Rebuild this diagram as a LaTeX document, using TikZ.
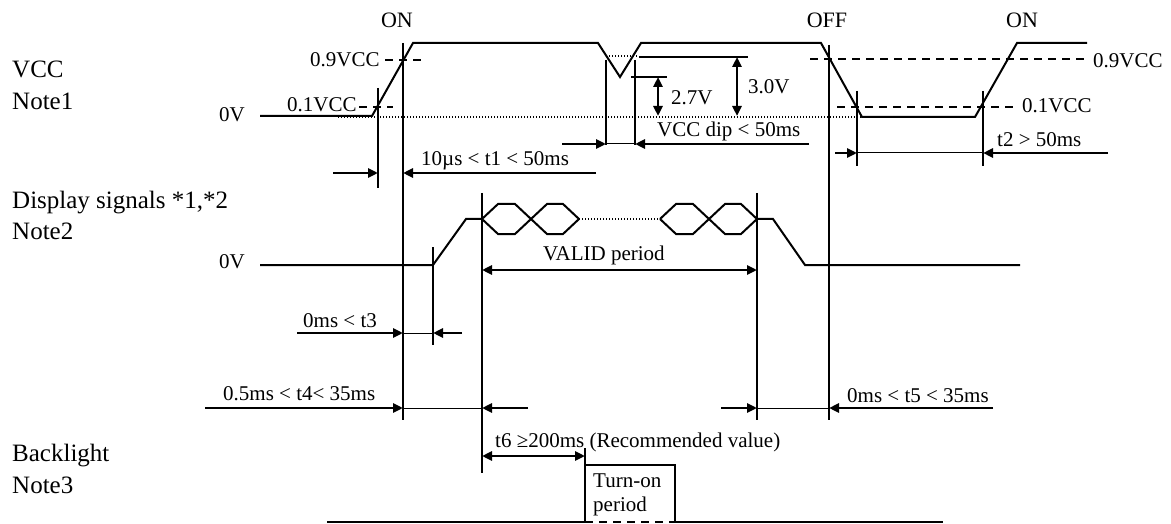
\documentclass[tikz,border=0pt]{standalone}
\usepackage{fontspec}
\setmainfont{Liberation Serif}
\usetikzlibrary{arrows.meta}
\begin{document}
\begin{tikzpicture}[x=1pt,y=-1pt,
  wave/.style={line width=2pt, line join=miter},
  vline/.style={line width=1.8pt},
  thin/.style={line width=1pt},
  dimarrow/.style={line width=2.5pt, -{Triangle[length=10pt,width=9pt]}},
  dblarrow/.style={line width=2.5pt, {Triangle[length=10pt,width=9pt]}-{Triangle[length=10pt,width=9pt]}},
  dotline/.style={line width=1.2pt, dash pattern=on 1.2pt off 1.8pt},
  dashline/.style={line width=1.6pt, dash pattern=on 8pt off 6pt},
  lab/.style={anchor=base west, inner sep=0pt, font=\fontsize{21}{24}\selectfont},
  clab/.style={anchor=base, inner sep=0pt, font=\fontsize{22}{24}\selectfont},
  big/.style={anchor=base west, inner sep=0pt, font=\fontsize{25}{28}\selectfont}]
\useasboundingbox (0,0) rectangle (1171,524);

% ---------- left labels ----------
\node[big] (vcc) at (12,78) {VCC};
\node[big] (n1) at (12,110) {Note1};
\node[big] (ds) at (12,208) {Display signals *1,*2};
\node[big] (n2) at (12,240) {Note2};
\node[big] (bl) at (12,461) {Backlight};
\node[big] (n3) at (12,493) {Note3};
\node[lab] (zv1) at (219,122) {0V};
\node[lab] (zv2) at (219,268) {0V};

% ---------- top labels ----------
\node[clab] (on1) at (397,28) {ON};
\node[clab] (off) at (827,28) {OFF};
\node[clab] (on2) at (1022,28) {ON};

% ---------- VCC waveform ----------
\draw[dotline] (338,117) -- (862,117);
\draw[dotline] (606,56) -- (637,56);
\draw[wave] (260,116) -- (372,116) -- (413,43) -- (598,43) -- (620,77) -- (641,43)
  -- (821,43) -- (862,117) -- (975,117) -- (1017,43) -- (1087,43);

% level markers
\node[lab] (l09) at (310,67) {0.9VCC};
\node[lab] (l01) at (287,112) {0.1VCC};
\draw[dashline] (385,60) -- (421,60);
\draw[dashline] (359,107) -- (393,107);
\draw[dashline] (810,59) -- (1084,59);
\draw[dashline] (837,107) -- (1018,107);
\node[lab] (r09) at (1093,68) {0.9VCC};
\node[lab] (r01) at (1022,113) {0.1VCC};

% vertical markers
\draw[vline] (378,88) -- (378,188);
\draw[vline] (403,43) -- (403,420);
\draw[vline] (606,60) -- (606,145);
\draw[vline] (635,60) -- (635,145);
\draw[vline] (829,45) -- (829,420);
\draw[vline] (857,91) -- (857,166);
\draw[vline] (983,91) -- (983,166);

% t1
\draw[dimarrow] (333,173) -- (378,173);
\draw[dimarrow] (596,173) -- (403,173);
\node[lab] (t1) at (421,166) {10µs < t1 < 50ms};

% dip
\draw[wave] (639,57) -- (748,57);
\draw[wave] (631,77) -- (667,77);
\draw[dblarrow] (658,77) -- (658,116);
\draw[dblarrow] (737,57) -- (737,116);
\node[lab] (v27) at (671,105) {2.7V};
\node[lab] (v30) at (748,94) {3.0V};
\draw[thin] (606,144) -- (635,144);
\draw[dimarrow] (562,144) -- (606,144);
\draw[dimarrow] (809,144) -- (635,144);
\node[lab] (dip) at (657,137) {VCC dip < 50ms};

% t2
\draw[thin] (857,153) -- (983,153);
\draw[dimarrow] (835,153) -- (857,153);
\draw[dimarrow] (1108,153) -- (983,153);
\node[lab] (t2) at (997,147) {t2 > 50ms};

% ---------- Display signals ----------
\draw[wave] (260,265) -- (433,265) -- (466,219) -- (482,219);
\draw[wave] (482,219) -- (498,204) -- (515,204) -- (547,234) -- (563,234) -- (579,219);
\draw[wave] (482,219) -- (498,234) -- (515,234) -- (547,204) -- (563,204) -- (579,219);
\draw[dotline] (579,219) -- (660,219);
\draw[wave] (660,219) -- (676,204) -- (693,204) -- (725,234) -- (741,234) -- (757,219);
\draw[wave] (660,219) -- (676,234) -- (693,234) -- (725,204) -- (741,204) -- (757,219);
\draw[wave] (757,219) -- (773,219) -- (805,265) -- (1020,265);

\draw[vline] (433,247) -- (433,345);
\draw[vline] (482,193) -- (482,473);
\draw[vline] (757,193) -- (757,420);

\draw[dblarrow] (482,270) -- (757,270);
\node[lab] (valid) at (543,260) {VALID period};

% t3
\draw[thin] (403,333) -- (433,333);
\draw[dimarrow] (297,333) -- (403,333);
\draw[dimarrow] (462,333) -- (433,333);
\node[lab] (t3) at (303,327) {0ms < t3};

% t4
\draw[thin] (403,408) -- (482,408);
\draw[dimarrow] (205,408) -- (403,408);
\draw[dimarrow] (528,408) -- (482,408);
\node[lab] (t4) at (223,400) {0.5ms < t4< 35ms};

% t5
\draw[thin] (757,408) -- (829,408);
\draw[dimarrow] (721,408) -- (757,408);
\draw[dimarrow] (993,408) -- (829,408);
\node[lab] (t5) at (847,402) {0ms < t5 < 35ms};

% t6
\draw[dblarrow] (482,456) -- (585,456);
\node[lab] (t6) at (495,447) {t6 ≥200ms (Recommended value)};

% ---------- Backlight ----------
\draw[vline] (585,448) -- (585,465);
\draw[wave] (327,522) -- (585,522) -- (585,465) -- (675,465) -- (675,522) -- (943,522);
\draw[dashline] (585,522) -- (675,522);
\node[lab] (ton) at (593,487) {Turn-on};
\node[lab] (tper) at (593,511) {period};
\end{tikzpicture}
\end{document}
